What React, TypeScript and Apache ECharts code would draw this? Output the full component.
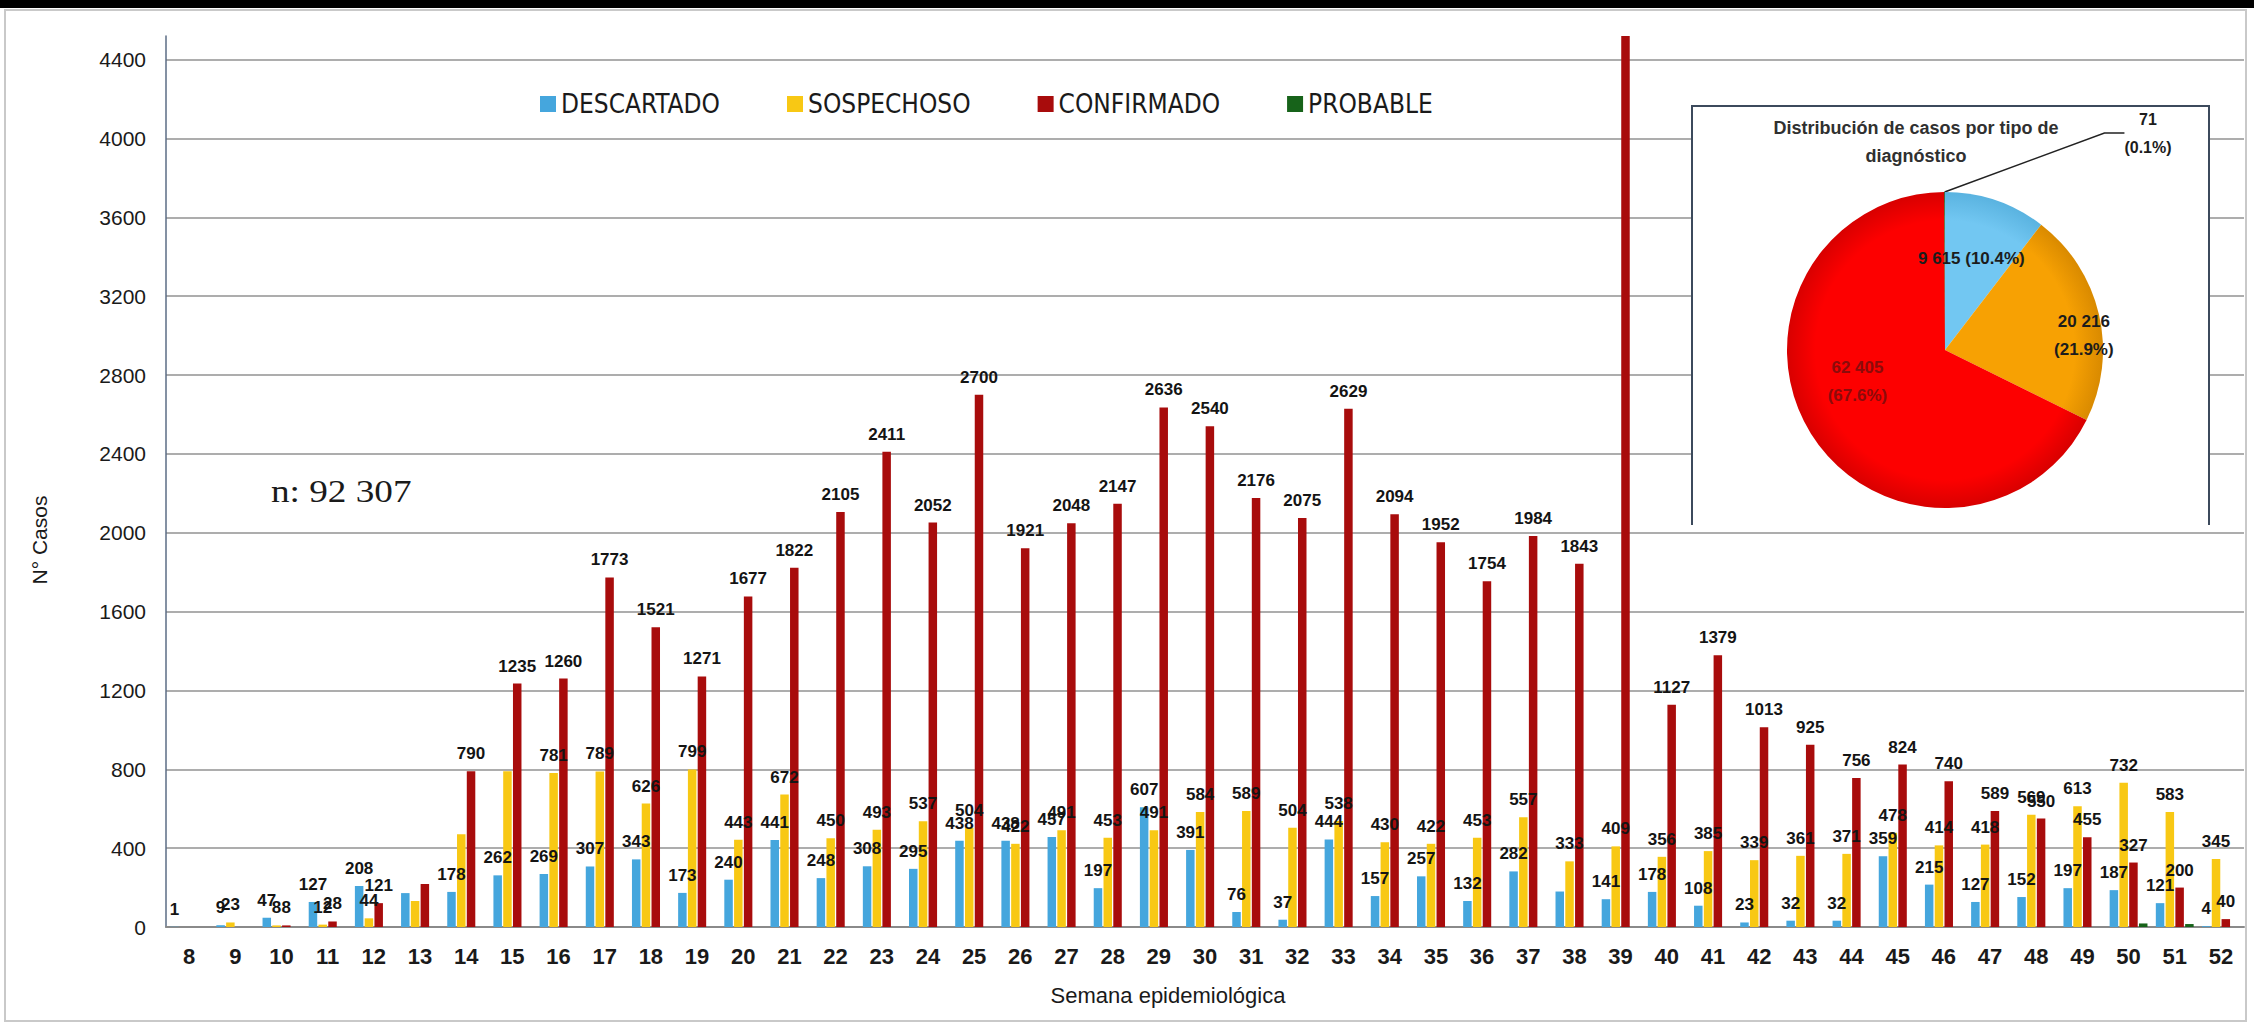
import React, { useEffect, useRef } from 'react';
import * as echarts from 'echarts';

const weeks = ['8','9','10','11','12','13','14','15','16','17','18','19','20','21','22','23','24','25','26','27','28','29','30','31','32','33','34','35','36','37','38','39','40','41','42','43','44','45','46','47','48','49','50','51','52'];
const descartado = [1, 9, 47, 127, 208, 172, 178, 262, 269, 307, 343, 173, 240, 441, 248, 308, 295, 438, 438, 457, 197, 607, 391, 76, 37, 444, 157, 257, 132, 282, 180, 141, 178, 108, 23, 32, 32, 359, 215, 127, 152, 197, 187, 121, 4];
const sospechoso = [0, 23, 8, 12, 44, 132, 470, 790, 781, 789, 626, 799, 443, 672, 450, 493, 537, 504, 422, 491, 453, 491, 584, 589, 504, 538, 430, 422, 453, 557, 333, 409, 356, 385, 339, 361, 371, 478, 414, 418, 569, 613, 732, 583, 345];
const confirmado = [0, 0, 8, 28, 121, 218, 790, 1235, 1260, 1773, 1521, 1271, 1677, 1822, 2105, 2411, 2052, 2700, 1921, 2048, 2147, 2636, 2540, 2176, 2075, 2629, 2094, 1952, 1754, 1984, 1843, 4689, 1127, 1379, 1013, 925, 756, 824, 740, 589, 550, 455, 327, 200, 40];
const probable = [0, 0, 0, 0, 0, 0, 0, 0, 0, 0, 0, 0, 0, 0, 0, 0, 0, 0, 0, 0, 0, 0, 0, 0, 0, 0, 0, 0, 0, 0, 0, 0, 0, 0, 0, 0, 0, 0, 0, 0, 0, 0, 18, 15, 0];

// weeks whose bar value label is not printed in the original
const hiddenDescartado = ['13', '38'];
const hiddenSospechoso = ['13', '14', '15'];
const hiddenConfirmado = ['13', '39'];

const pieNames = ['DESCARTADO', 'SOSPECHOSO', 'CONFIRMADO', 'PROBABLE'];
const pieValues = [9615, 20216, 62405, 71];

const seriesNames = ['DESCARTADO', 'SOSPECHOSO', 'CONFIRMADO', 'PROBABLE'];
const barColors = ['#45a6dd', '#f8c814', '#a80c0c', '#17631a'];
const pieColors = ['#72c7f2', '#f7a103', '#fd0000', '#17631a'];
const pieEdgeColors = ['#5ab3e0', '#d98a00', '#d80000', '#0f4a12'];

const yTickInterval = 400;
const yMax = 4520;

const PIE_CX = 1945;
const PIE_CY = 350;
const PIE_R = 158;

const fmtThousands = (v: number) => String(v).replace(/\B(?=(\d{3})+(?!\d))/g, ' ');

function barData(values: number[], hidden: string[]) {
  return values.map((v, i) =>
    hidden.includes(weeks[i]) ? { value: v, label: { show: false } } : v
  );
}

const barLabel = {
  show: true,
  position: 'top' as const,
  distance: 9,
  fontFamily: 'Liberation Sans, Arial, sans-serif',
  fontWeight: 'bold' as const,
  fontSize: 17,
  color: '#141414',
  formatter: (p: any) => (p.value === 0 ? '' : String(p.value)),
};

function makeBar(name: string, values: number[], color: string, hidden: string[], showLabel: boolean) {
  return {
    type: 'bar',
    name,
    data: barData(values, hidden),
    barWidth: 8.5,
    barGap: '15%',
    clip: true,
    itemStyle: { color },
    label: showLabel ? barLabel : { show: false },
    z: 3,
  };
}

export default function App() {
  const ref = useRef<HTMLDivElement>(null);
  useEffect(() => {
    document.body.style.margin = '0';
    const chart = echarts.init(ref.current!, null, { renderer: 'svg' });
    const option: any = {
      animation: false,
      backgroundColor: '#ffffff',
      grid: { left: 166, right: 10, top: 36, bottom: 97, containLabel: false },
      legend: {
        left: 540,
        top: 91,
        padding: 0,
        itemWidth: 16,
        itemHeight: 16,
        itemGap: 67,
        icon: 'rect',
        selectedMode: false,
        data: seriesNames,
        textStyle: { fontFamily: 'Liberation Sans Narrow, DejaVu Sans Condensed, sans-serif', fontSize: 26, color: '#1a1a1a' },
      },
      xAxis: {
        type: 'category',
        data: weeks,
        axisTick: { show: false },
        axisLine: { lineStyle: { color: '#8a8a8a', width: 2 } },
        axisLabel: {
          interval: 0,
          margin: 18,
          fontFamily: 'Liberation Sans, Arial, sans-serif',
          fontWeight: 'bold',
          fontSize: 22,
          color: '#1a1a1a',
        },
      },
      yAxis: {
        type: 'value',
        min: 0,
        max: yMax,
        interval: yTickInterval,
        axisLine: { show: true, lineStyle: { color: '#5b6c84', width: 1.5 } },
        axisTick: { show: false },
        axisLabel: {
          showMaxLabel: false,
          margin: 20,
          formatter: (v: number) => String(v),
          fontFamily: 'Liberation Sans, Arial, sans-serif',
          fontSize: 21,
          color: '#1a1a1a',
        },
        splitLine: { show: true, showMaxLine: false, lineStyle: { color: '#adadad', width: 2 } },
      },
      series: [
        makeBar(seriesNames[0], descartado, barColors[0], hiddenDescartado, true),
        makeBar(seriesNames[1], sospechoso, barColors[1], hiddenSospechoso, true),
        makeBar(seriesNames[2], confirmado, barColors[2], hiddenConfirmado, true),
        makeBar(seriesNames[3], probable, barColors[3], [], false),
        {
          type: 'pie',
          name: 'Distribución',
          center: [PIE_CX, PIE_CY],
          radius: PIE_R,
          startAngle: 90,
          clockwise: true,
          percentPrecision: 1,
          z: 6,
          silent: true,
          avoidLabelOverlap: false,
          data: pieValues.map((v, i) => ({
            name: pieNames[i],
            value: v,
            itemStyle: {
              color: new echarts.graphic.RadialGradient(PIE_CX, PIE_CY, PIE_R, [
                { offset: 0, color: pieColors[i] },
                { offset: 0.82, color: pieColors[i] },
                { offset: 1, color: pieEdgeColors[i] },
              ], true),
            },
            label: { position: i < 3 ? 'inside' : 'outside', color: i === 2 ? '#8c0b0b' : '#1c1c1c', fontSize: i === 3 ? 16 : 17 },
            labelLine: { show: i === 3, length: 20, length2: 20, lineStyle: { color: '#222', width: 1.5 } },
          })),
          label: {
            fontFamily: 'Liberation Sans, Arial, sans-serif',
            fontWeight: 'bold',
            lineHeight: 28,
            formatter: (p: any) =>
              p.dataIndex === 0
                ? `${fmtThousands(p.value)} (${p.percent}%)`
                : `${fmtThousands(p.value)}\n(${p.percent}%)`,
          },
          labelLayout: (p: any) => {
            if (p.dataIndex === 0) return { dy: -14 };
            if (p.dataIndex === 1) return { dx: 59, dy: 4 };
            if (p.dataIndex === 2) return { dx: -18, dy: -12 };
            return { x: 2148, y: 133, align: 'center', verticalAlign: 'middle' };
          },
        },
      ],
      graphic: [
        { type: 'rect', shape: { x: 0, y: 0, width: 2254, height: 8 }, style: { fill: '#000' }, z: 20 },
        { type: 'rect', shape: { x: 5, y: 10, width: 2241, height: 1011 }, style: { fill: 'none', stroke: '#c9c9c9', lineWidth: 2 }, z: 20 },
        { type: 'rect', shape: { x: 1692, y: 106, width: 517, height: 419 }, style: { fill: '#ffffff' }, z: 1 },
        { type: 'polyline', shape: { points: [[1692, 525], [1692, 106], [2209, 106], [2209, 525]] }, style: { fill: 'none', stroke: '#3c4a5c', lineWidth: 2 }, z: 4 },
        {
          type: 'text', x: 1916, y: 142, z: 7,
          style: { text: 'Distribución de casos por tipo de\ndiagnóstico', font: 'bold 18px Liberation Sans, Arial, sans-serif', fill: '#303030', textAlign: 'center', textVerticalAlign: 'middle', lineHeight: 28 },
        },
        {
          type: 'text', x: 271, y: 491, scaleX: 1.2, z: 7,
          style: { text: 'n: 92 307', font: '31px Liberation Serif, Times New Roman, serif', fill: '#1a1a1a', textAlign: 'left', textVerticalAlign: 'middle' },
        },
        {
          type: 'text', x: 39, y: 540, rotation: Math.PI / 2, z: 7,
          style: { text: 'N° Casos', font: '21px Liberation Sans, Arial, sans-serif', fill: '#1a1a1a', textAlign: 'center', textVerticalAlign: 'middle' },
        },
        {
          type: 'text', x: 1168, y: 995, z: 7,
          style: { text: 'Semana epidemiológica', font: '22px Liberation Sans, Arial, sans-serif', fill: '#1a1a1a', textAlign: 'center', textVerticalAlign: 'middle' },
        },
      ],
    };
    chart.setOption(option);
    return () => chart.dispose();
  }, []);
  return <div ref={ref} style={{ width: 2254, height: 1024 }} />;
}
